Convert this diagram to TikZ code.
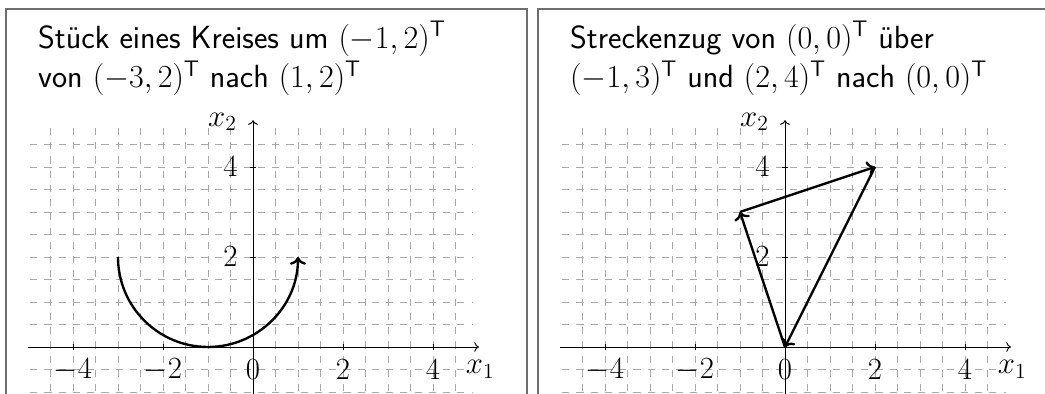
\RequirePackage{fix-cm}
\documentclass[tikz,border=0pt]{standalone}
\usepackage{amsmath,amssymb}
\usepackage{tikz}
\usetikzlibrary{arrows.meta,positioning,calc}
\definecolor{FrameGray}{HTML}{6E6E6E}
\definecolor{GridGray}{HTML}{A8A8A8}
\tikzset{
  panel/.style={draw=FrameGray,line width=1.2pt},
  gridline/.style={GridGray,line width=0.55pt,dash pattern=on 4.5pt off 4.5pt},
  axis/.style={->,line width=0.6pt},
  curve/.style={->,line width=1.5pt},
  ticklab/.style={inner sep=0pt,font=\fontsize{19.5}{22}\selectfont},
  caption/.style={anchor=base west,inner sep=0pt,font=\sffamily\fontsize{20.3}{24}\selectfont},
}

\begin{document}
\begin{tikzpicture}
  \clip (-5.622,-1.044) rectangle (17.6,7.711);
  % frames, grid and axes of both panels
  \foreach \p/\s in {l/0,r/11.822} {
    \begin{scope}[xshift=\s cm]
      \draw[panel] (-5.48,-2) rectangle (6.09,7.51);
      \draw[gridline] (-4.95,-1.3) grid[step=0.5] (4.9,4.95);
      \draw[axis] (-5,0) -- (5.02,0);
      \draw[axis] (0,-1.3) -- (0,5.04);
      \foreach \x in {-4,-2,2,4} {
        \draw[line width=0.4pt] (\x,-0.07) -- (\x,0.07);
      }
      \foreach \y in {2,4} {
        \draw[line width=0.4pt] (-0.07,\y) -- (0.07,\y);
        \node[ticklab] (ty\y-\p) at (-0.5,\y) {$\y$};
      }
      \foreach \x in {-4,-2,0,2,4} {
        \node[ticklab] (tx\x-\p) at (\x,-0.5) {$\x$};
      }
      \node[ticklab] (x1-\p) at (5.05,-0.5) {$x_1$};
      \node[ticklab] (x2-\p) at (-0.68,5.0) {$x_2$};
    \end{scope}
  }

  % left: piece of a circle
  \node[caption] (capa) at (-4.78,6.64) {Stück eines Kreises um $(-1,2)^{\mathsf{T}}$};
  \node[caption] (capb) at (-4.78,5.76) {von $(-3,2)^{\mathsf{T}}$ nach $(1,2)^{\mathsf{T}}$};
  \coordinate (kstart) at (-3,2);
  \draw[curve] (kstart) arc[start angle=180,end angle=360,radius=2];

  % right: polygonal chain
  \begin{scope}[xshift=11.822cm]
    \node[caption] (capc) at (-4.78,6.64) {Streckenzug von $(0,0)^{\mathsf{T}}$ über};
    \node[caption] (capd) at (-4.78,5.76) {$(-1,3)^{\mathsf{T}}$ und $(2,4)^{\mathsf{T}}$ nach $(0,0)^{\mathsf{T}}$};
    \coordinate (p0) at (0,0);
    \coordinate (p1) at (-1,3);
    \coordinate (p2) at (2,4);
    \draw[curve] (p0) -- (p1);
    \draw[curve] (p1) -- (p2);
    \draw[curve] (p2) -- (p0);
  \end{scope}
\end{tikzpicture}
\end{document}
